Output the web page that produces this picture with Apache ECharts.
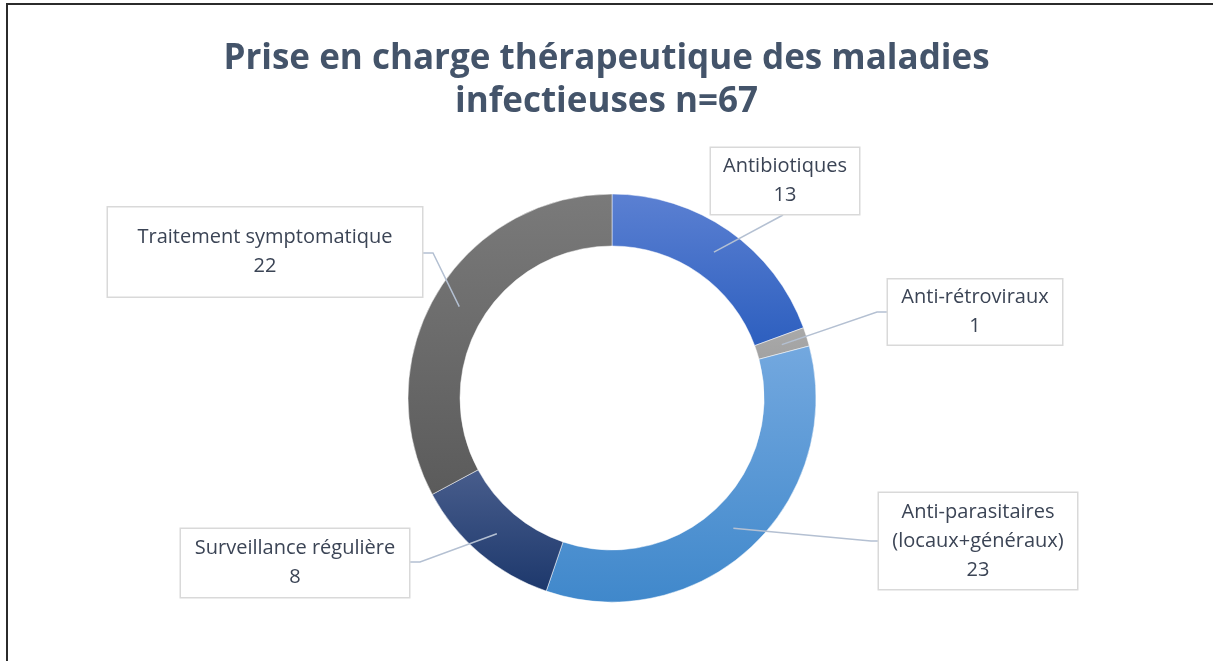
<!DOCTYPE html>
<html>
<head>
<meta charset="utf-8">
<script src="https://cdn.jsdelivr.net/npm/echarts@6/dist/echarts.min.js"></script>
<style>
html, body { margin: 0; padding: 0; background: #fff; }
#frame { position: absolute; left: 6px; top: 3px; width: 1220px; height: 670px; border-left: 2px solid #2b2b2b; border-top: 2px solid #2b2b2b; }
#main { position: absolute; left: 0; top: 0; width: 1213px; height: 661px; }
</style>
</head>
<body>
<div id="frame"></div>
<div id="main"></div>
<script>
/* donnees */
var categories = ['Antibiotiques', 'Anti-rétroviraux', 'Anti-parasitaires\n(locaux+généraux)', 'Surveillance régulière', 'Traitement symptomatique'];
var values = [13, 1, 23, 8, 22];
var sliceColors = [
	['#5b80d2', '#2d5fbf'],
	['#a9a9a9', '#a2a2a2'],
	['#73a8df', '#4088cb'],
	['#485d8c', '#1d386c'],
	['#7a7a7a', '#5b5b5b']
];

/* mise en page des etiquettes */
var pieCenter = [612, 398];
var pieRadius = [152, 204];
var boxCenters = [[785, 181], [975, 312], [978, 541], [295, 563], [265, 252]];
var boxSizes = [[148, 66], [174, 65], [198, 96], [228, 68], [314, 89]];
var lineEnds = [
	[[783, 215], [783, 215]],
	[[877, 312], [888, 312]],
	[[871, 541], [879, 541]],
	[[420, 562], [409, 562]],
	[[433, 253], [422, 253]]
];
var lineH = 29;

var total = 0;
for(var i = 0; i < values.length; i++) {
	total += values[i];
}

function anchorPoint(idx) {
	var before = 0;
	for(var k = 0; k < idx; k++) {
		before += values[k];
	}
	var a = (before + values[idx] / 2) / total * Math.PI * 2;
	var r = (pieRadius[0] + pieRadius[1]) / 2;
	return [pieCenter[0] + r * Math.sin(a), pieCenter[1] - r * Math.cos(a)];
}

/* anneau colore */
var ringData = [];
/* meme anneau, transparent, porte les etiquettes au-dessus */
var labelData = [];
for(var i = 0; i < categories.length; i++) {
	var nLines = categories[i].split('\n').length + 1;
	var padV = (boxSizes[i][1] - nLines * lineH) / 2;
	ringData.push({
		name: categories[i],
		value: values[i],
		itemStyle: {
			color: new echarts.graphic.LinearGradient(0, 0, 0, 1, [
				{ offset: 0, color: sliceColors[i][0] },
				{ offset: 1, color: sliceColors[i][1] }
			])
		}
	});
	labelData.push({
		name: categories[i],
		value: values[i],
		label: {
			width: boxSizes[i][0],
			padding: [padV, 0, padV, 0]
		}
	});
}

var chart = echarts.init(document.getElementById('main'));
chart.setOption({
	animation: false,
	title: {
		text: 'Prise en charge thérapeutique des maladies\ninfectieuses n=67',
		left: 'center',
		top: 33,
		textStyle: {
			fontFamily: 'Open Sans',
			fontWeight: 'bold',
			fontSize: 35,
			lineHeight: 43,
			color: '#44546a'
		}
	},
	series: [{
		type: 'pie',
		z: 2,
		center: pieCenter,
		radius: pieRadius,
		startAngle: 90,
		clockwise: true,
		silent: true,
		itemStyle: {
			borderColor: '#ffffff',
			borderWidth: 0.5
		},
		label: { show: false },
		labelLine: { show: false },
		data: ringData
	}, {
		type: 'pie',
		z: 4,
		center: pieCenter,
		radius: pieRadius,
		startAngle: 90,
		clockwise: true,
		avoidLabelOverlap: false,
		silent: true,
		itemStyle: {
			color: 'rgba(0,0,0,0)',
			borderWidth: 0
		},
		label: {
			show: true,
			position: 'outside',
			formatter: '{b}\n{c}',
			fontFamily: 'Open Sans',
			fontSize: 20,
			lineHeight: lineH,
			color: '#3b4455',
			align: 'center',
			backgroundColor: '#ffffff',
			borderColor: '#d9d9d9',
			borderWidth: 1.5
		},
		labelLine: {
			show: true,
			length: 10,
			length2: 10,
			lineStyle: {
				color: '#b4c0d2',
				width: 1.5
			}
		},
		labelLayout: function(params) {
			var i = params.dataIndex;
			return {
				x: boxCenters[i][0],
				y: boxCenters[i][1],
				align: 'center',
				verticalAlign: 'middle',
				labelLinePoints: [anchorPoint(i), lineEnds[i][0], lineEnds[i][1]]
			};
		},
		data: labelData
	}]
});
</script>
</body>
</html>
